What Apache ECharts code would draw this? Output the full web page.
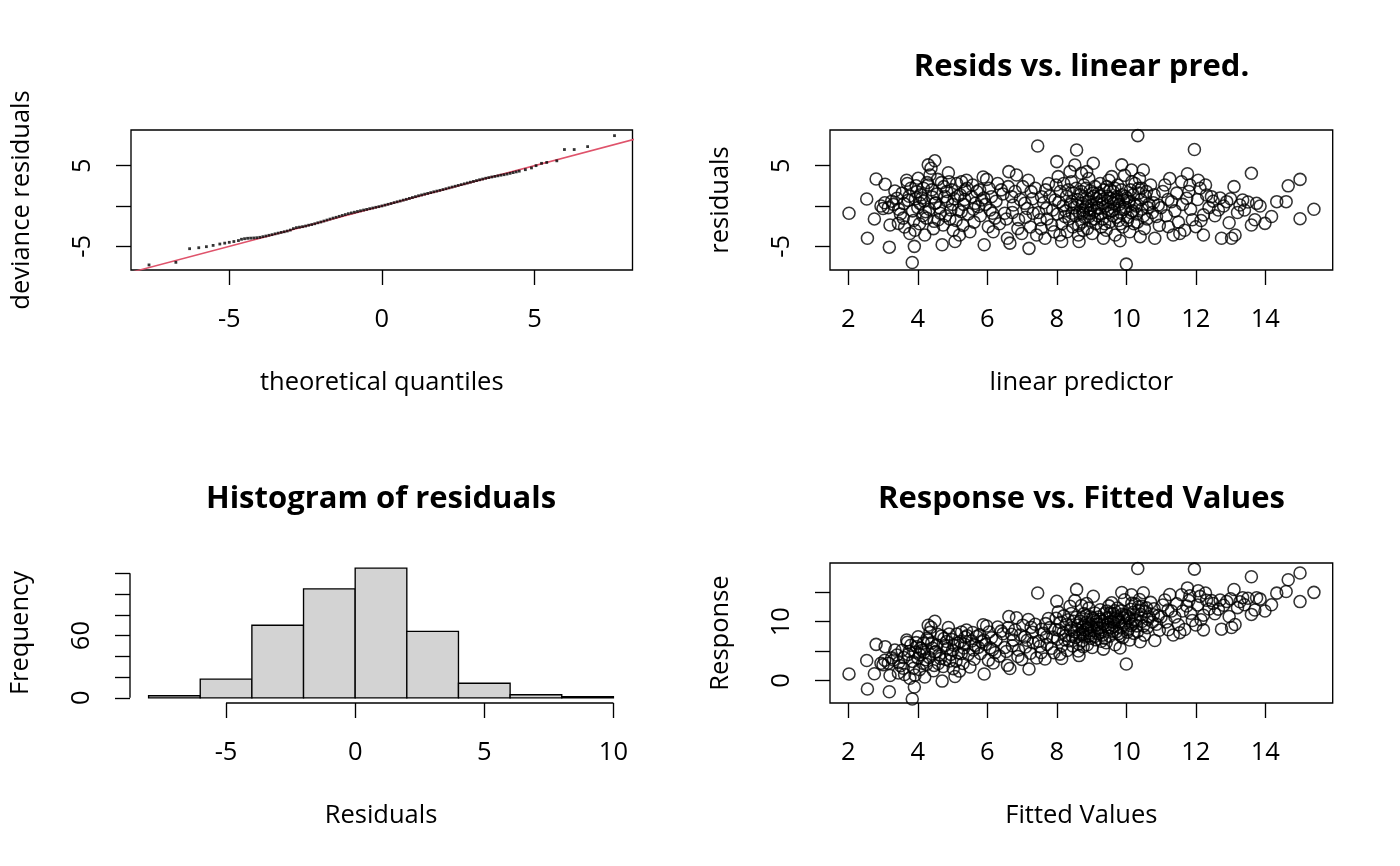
<!DOCTYPE html>
<html><head><meta charset="utf-8">
<script src="https://cdn.jsdelivr.net/npm/echarts@6/dist/echarts.min.js"></script>
<style>html,body{margin:0;padding:0;background:#fff;}#chart{width:1400px;height:866px;}</style>
</head><body><div id="chart"></div>
<script>
// ---------- data ----------
const fitted = [
2.02,2.53,2.55,2.80,3.06,2.75,2.94,3.00,3.18,3.20,
3.34,3.40,3.44,3.58,3.68,3.70,3.77,3.84,3.90,3.92,
3.97,4.01,4.06,4.16,4.20,4.25,4.30,4.38,4.49,4.35,
4.40,4.49,4.59,4.70,4.73,4.78,4.88,4.90,4.95,5.02,
5.07,5.12,5.17,5.20,5.26,5.36,5.40,5.50,5.55,5.65,
5.74,5.84,5.88,5.91,5.98,6.03,6.08,6.12,6.17,6.22,
6.30,6.40,6.50,6.58,6.62,6.65,6.70,6.75,6.84,6.90,
6.99,7.08,7.18,7.20,7.26,7.32,7.42,7.45,7.52,7.56,
7.66,7.70,7.76,7.85,7.95,8.00,8.04,8.09,8.14,8.23,
8.33,8.38,8.43,8.52,8.57,8.64,8.71,8.76,9.05,8.86,
8.76,9.34,9.82,10.00,10.33,9.87,10.15,10.49,9.58,9.25,
9.54,9.73,9.92,10.25,10.35,10.58,10.92,10.87,10.82,11.11,
11.21,11.30,11.35,11.54,11.59,11.74,11.76,11.83,11.96,12.07,
12.12,12.22,12.22,12.00,11.90,12.31,12.45,12.65,12.74,12.89,
12.96,13.03,13.10,13.13,13.27,13.35,13.40,13.60,13.60,13.75,
13.70,13.99,14.18,14.33,14.60,14.66,15.00,15.00,15.40,3.05,
3.15,3.25,3.50,3.60,3.75,3.85,3.95,4.05,4.12,4.22,
4.30,4.45,4.55,4.62,4.68,4.80,4.85,4.98,5.05,5.10,
5.22,5.30,5.32,5.45,5.58,5.62,5.70,5.80,5.95,6.05,
6.15,6.25,6.35,6.45,6.55,6.60,6.72,6.80,6.88,6.95,
7.02,7.10,7.15,7.24,7.30,7.38,7.48,7.55,7.62,7.68,
7.72,7.80,7.88,7.92,7.98,8.02,8.06,8.10,8.15,8.18,
8.20,8.25,8.28,8.30,8.35,8.40,8.42,8.46,8.48,8.50,
8.54,8.56,8.60,8.62,8.66,8.68,8.72,8.74,8.78,8.80,
8.82,8.85,8.88,8.90,8.92,8.94,8.96,8.98,9.00,9.02,
9.06,9.08,9.10,9.12,9.15,9.18,9.20,9.22,9.28,9.30,
9.32,9.36,9.40,9.42,9.45,9.48,9.50,9.52,9.56,9.60,
9.62,9.65,9.68,9.70,9.75,9.78,9.80,9.85,9.88,9.90,
9.95,9.98,10.02,10.05,10.08,10.10,10.12,10.18,10.20,10.22,
10.28,10.30,10.38,10.40,10.42,10.45,10.52,10.55,10.60,10.65,
10.70,10.75,10.80,10.95,11.00,11.05,11.15,11.20,11.25,11.40,
11.45,11.50,11.62,11.68,11.80,11.85,12.05,12.15,12.28,12.38,
12.50,12.55,12.70,12.80,13.00,13.20,13.50,13.85,
3.30,3.45,3.55,3.62,3.72,3.80,3.88,3.93,4.00,4.08,
4.14,4.18,4.27,4.33,4.42,4.47,4.52,4.57,4.65,4.75,
4.83,4.92,5.00,5.15,5.25,5.35,5.42,5.60,5.78,5.90,
8.44,8.58,8.63,8.70,8.75,8.84,8.87,8.93,8.97,9.04,
9.09,9.14,9.17,9.24,9.26,9.33,9.38,9.44,9.47,9.53,
9.58,9.63,9.67,9.72,9.77,9.83,9.86,9.93,9.97,10.03,
10.07,10.13,10.16,10.24,10.32,10.36,10.44,10.50,10.62,10.78
];
const resid = [
-0.90,0.87,-4.00,3.35,2.70,-1.60,0.00,-0.30,-5.10,-2.35,
1.86,0.95,-2.15,-1.50,3.20,2.80,-3.40,-7.00,-5.00,-3.00,
1.78,3.43,0.33,2.20,-3.60,-1.50,5.10,4.67,5.60,3.84,
2.00,0.33,-1.70,-4.80,-2.35,1.16,4.13,3.00,-0.50,-3.00,
-4.40,2.80,-0.50,-3.60,3.00,2.00,3.20,-3.20,1.16,0.33,
-0.10,0.74,3.60,-4.80,3.30,-2.56,-0.50,1.16,-3.20,-1.50,
2.80,2.00,-0.90,-4.00,4.26,-4.60,1.16,0.12,3.84,-1.70,
-3.40,0.33,3.20,-5.25,1.78,-0.90,-3.60,7.44,-1.70,1.16,
-4.00,-0.30,2.80,-2.35,0.74,5.50,3.64,-3.60,-4.40,-1.30,
2.00,4.26,0.54,5.08,6.94,-4.40,4.05,-0.50,5.30,4.26,
-3.00,-4.00,-4.30,-7.20,8.72,5.10,4.46,4.46,3.64,2.80,
2.00,1.16,0.74,2.80,2.20,1.78,0.12,-1.30,-4.00,2.60,
-2.56,0.54,-3.60,-3.40,3.00,0.95,4.00,2.60,7.00,3.20,
2.20,-3.60,-1.10,-2.56,-1.70,1.36,1.16,-0.50,-4.00,0.54,
-2.07,-4.00,2.40,-3.60,0.12,0.74,-0.50,4.05,-2.35,0.33,
-1.70,-2.15,-1.30,0.54,0.54,2.50,3.30,-1.57,-0.40,0.40,
-0.20,0.60,-1.00,0.30,1.20,-0.60,2.50,-2.20,1.00,-0.70,
2.60,-2.80,1.50,-0.20,2.90,-1.20,0.60,2.00,0.90,-1.80,
1.40,-2.40,0.20,-1.00,2.60,-2.00,1.80,-1.20,0.20,2.20,
-0.90,0.60,-2.20,1.50,-1.60,2.40,-0.80,1.80,-2.80,0.80,
2.40,-1.40,-0.30,-2.60,0.90,2.20,-0.80,-2.80,0.40,2.00,
-1.60,1.20,-0.50,-3.20,2.60,-1.00,0.50,1.80,-2.20,0.00,
2.80,-0.60,1.20,-3.20,-1.60,0.20,3.00,-2.60,1.60,-0.20,
-1.20,2.20,0.80,-3.60,-0.80,1.40,-2.00,0.30,2.60,-1.40,
-0.20,1.00,-2.80,0.60,3.40,-0.90,1.90,-1.80,0.10,-3.40,
1.20,-0.60,2.40,-2.20,0.40,-1.20,1.60,-0.30,-2.60,0.80,
-1.60,2.00,0.00,-3.00,1.20,-0.80,3.20,-2.00,0.50,-1.20,
1.80,-0.40,-3.60,0.90,2.60,-1.80,0.20,-0.90,1.40,-2.60,
3.80,-0.20,1.00,-1.40,0.40,-3.20,2.00,-0.60,1.40,-2.20,
0.00,-1.00,3.40,-3.80,0.80,-0.40,-2.80,1.20,-1.60,0.20,
2.60,-0.80,1.40,-2.40,-0.20,1.80,-1.20,0.80,3.40,-0.60,
1.60,-2.00,0.20,-3.00,1.80,-0.40,0.80,-1.80,2.60,-0.20,
0.60,-1.20,1.00,0.00,0.90,-0.80,0.50,0.00,
0.20,-0.40,1.60,-2.60,0.70,2.20,-1.80,0.90,-0.20,1.40,
-1.20,0.60,2.90,-0.40,1.10,-1.90,0.40,3.30,-0.90,2.40,
1.80,-1.60,0.20,1.20,-0.70,0.80,2.20,-0.40,2.00,1.00,
-0.90,0.10,-2.40,1.80,-0.90,2.20,0.00,-1.30,-0.50,1.60,
-1.60,0.90,-0.20,1.20,-1.00,0.30,-2.20,2.40,-0.40,1.00,
-0.60,0.30,2.20,-1.40,0.60,-2.20,2.00,-0.40,1.20,-1.80,
0.60,-0.80,3.00,0.20,-2.00,1.60,2.20,-1.20,-0.20,0.40
];
const response = [
1.12,3.40,-1.45,6.15,5.76,1.15,2.94,2.70,-1.92,0.85,
5.20,4.35,1.29,2.08,6.88,6.50,0.37,-3.16,-1.10,0.92,
5.75,7.44,4.39,6.36,0.60,2.75,9.40,9.05,10.09,8.19,
6.40,4.82,2.89,-0.10,2.38,5.94,9.01,7.90,4.45,2.02,
0.67,7.92,4.67,1.60,8.26,7.36,8.60,2.30,6.71,5.98,
5.64,6.58,9.48,1.11,9.28,3.47,5.58,7.28,2.97,4.72,
9.10,8.40,5.60,2.58,10.88,2.05,7.86,6.87,10.68,5.20,
3.59,7.41,10.38,1.95,9.04,6.42,3.82,14.89,5.82,8.72,
3.66,7.40,10.56,5.50,8.69,13.50,11.68,4.49,3.74,6.93,
10.33,12.64,8.97,13.60,15.51,4.24,12.76,8.26,14.35,13.12,
5.76,5.34,5.52,2.80,19.05,14.97,14.61,14.95,13.22,12.05,
11.54,10.89,10.66,13.05,12.55,12.36,11.04,9.57,6.82,13.71,
8.65,11.84,7.75,8.14,14.59,12.69,15.76,14.43,18.96,15.27,
14.32,8.62,11.12,9.44,10.20,13.67,13.61,12.15,8.74,13.43,
10.89,9.03,15.50,9.53,13.39,14.09,12.90,17.65,11.25,14.08,
12.00,11.84,12.88,14.87,15.14,17.16,18.30,13.43,15.00,3.45,
2.95,3.85,2.50,3.90,4.95,3.25,6.45,1.85,5.12,3.52,
6.90,1.65,6.05,4.42,7.58,3.60,5.45,6.98,5.95,3.30,
6.62,2.90,5.52,4.45,8.18,3.62,7.50,4.60,6.15,8.25,
5.25,6.85,4.15,7.95,4.95,9.00,5.92,8.60,4.08,7.75,
9.42,5.70,6.85,4.64,8.20,9.58,6.68,4.75,8.02,9.68,
6.12,9.00,7.38,4.72,10.58,7.02,8.56,9.90,5.95,8.18,
11.00,7.65,9.48,5.10,6.75,8.60,11.42,5.86,10.08,8.30,
7.34,10.76,9.40,5.02,7.86,10.08,6.72,9.04,11.38,7.40,
8.62,9.85,6.08,9.50,12.32,8.04,10.86,7.18,9.10,5.62,
10.26,8.48,11.50,6.92,9.55,7.98,10.80,8.92,6.68,10.10,
7.72,11.36,9.40,6.42,10.65,8.68,12.70,7.52,10.06,8.40,
11.42,9.25,6.08,10.60,12.35,7.98,10.00,8.95,11.28,7.30,
13.75,9.78,11.02,8.65,10.48,6.90,12.12,9.58,11.60,8.02,
10.28,9.30,13.78,6.60,11.22,10.05,7.72,11.75,9.00,10.85,
13.30,9.95,12.20,8.55,10.80,12.85,9.95,12.00,14.65,10.80,
13.05,9.50,11.82,8.68,13.60,11.45,12.85,10.35,14.88,12.18,
13.10,11.35,13.70,12.80,13.90,12.40,14.00,13.85,
3.50,3.05,5.15,1.02,4.42,6.00,2.08,4.83,3.80,5.48,
2.94,4.78,7.17,3.93,5.52,2.57,4.92,7.87,3.75,7.15,
6.63,3.32,5.20,6.35,4.55,6.15,7.62,5.20,7.78,6.90,
7.54,8.68,6.23,10.50,7.85,11.04,8.87,7.63,8.47,10.64,
7.49,10.04,8.97,10.44,8.26,9.63,7.18,11.84,9.07,10.53,
8.98,9.93,11.87,8.32,10.37,7.63,11.86,9.53,11.17,8.23,
10.67,9.33,13.16,10.44,8.32,11.96,12.64,9.30,10.42,11.18
];
const qqTheoretical = [
-7.63,-6.75,-6.30,-6.00,-5.75,-5.53,-5.31,-5.15,-5.00,-4.85,-4.70,-4.60,
-4.5,-4.4,-4.3,-4.2,-4.1,-4.0,-3.9,-3.8,-3.7,-3.6,-3.5,-3.4,-3.3,-3.2,-3.1,
-3.0,-2.9,-2.8,-2.7,-2.6,-2.5,-2.4,-2.3,-2.2,-2.1,-2.0,-1.9,-1.8,-1.7,-1.6,
-1.5,-1.4,-1.3,-1.2,-1.1,-1.0,-0.9,-0.8,-0.7,-0.6,-0.5,-0.4,-0.3,-0.2,-0.1,
0.0,0.1,0.2,0.3,0.4,0.5,0.6,0.7,0.8,0.9,1.0,1.1,1.2,1.3,1.4,1.5,1.6,1.7,1.8,
1.9,2.0,2.1,2.2,2.3,2.4,2.5,2.6,2.7,2.8,2.9,3.0,3.1,3.2,3.3,3.4,3.5,3.6,3.7,
3.8,3.9,4.0,4.1,4.2,4.3,4.4,4.5,4.7,4.9,5.05,
5.23,5.40,5.73,5.98,6.30,6.74,7.62
];
const qqSample = [
-7.30,-6.98,-5.29,-5.17,-5.04,-4.88,-4.71,-4.60,-4.50,-4.40,-4.28,-4.12,
-4.05,-4.00,-3.98,-3.96,-3.93,-3.88,-3.80,-3.72,-3.63,-3.55,-3.45,-3.36,-3.27,-3.19,-3.10,
-2.98,-2.80,-2.68,-2.62,-2.56,-2.48,-2.38,-2.30,-2.20,-2.08,-1.98,-1.86,-1.74,-1.62,-1.50,
-1.40,-1.28,-1.17,-1.06,-0.95,-0.86,-0.77,-0.68,-0.59,-0.50,-0.42,-0.33,-0.25,-0.16,-0.08,
0.01,0.11,0.21,0.31,0.42,0.52,0.62,0.73,0.83,0.94,1.05,1.16,1.27,1.37,1.47,1.56,1.66,1.76,1.85,
1.94,2.04,2.14,2.25,2.35,2.45,2.55,2.65,2.75,2.85,2.95,3.05,3.15,3.25,3.34,3.44,3.52,3.60,3.67,
3.74,3.82,3.88,3.96,4.05,4.14,4.23,4.32,4.50,4.72,5.00,
5.29,5.40,5.60,7.00,7.00,7.36,8.72
];
const refLine = [-8.3, 8.3];            // abline(0, 1)
const histBreaks = [-8,-6,-4,-2,0,2,4,6,8,10];
const histCounts = [2,18,70,105,125,64,14,3,1];
const qqTicksX = [-5,0,5];
const residTicksY = [-5,0,5];
const residLabelsY = [-5,5];
const predTicksX = [2,4,6,8,10,12,14];
const histTicksX = [-5,0,5,10];
const histTicksY = [0,20,40,60,80,100,120];
const histLabelsY = [0,60];
const respTicksY = [0,5,10,15];
const respLabelsY = [0,10];

// ---------- styling helpers ----------
const FONT = '"Open Sans","Noto Sans",sans-serif';
const FS = 25.5;
const TFS = 31;
const LW = 1.35;
const txt = {color:'#000', fontFamily:FONT, fontSize:FS};

function xAxis(gi, min, max, ticks, labels, name){
  return {type:'value', gridIndex:gi, min, max, position:'bottom',
    splitLine:{show:false}, axisLine:{show:false, onZero:false},
    axisTick:{show:true, customValues:ticks, length:15, lineStyle:{color:'#000', width:LW}},
    axisLabel:{customValues:labels, margin:36.5, ...txt},
    name, nameLocation:'middle', nameGap:99.5, nameTextStyle:{...txt}};
}
function yAxis(gi, min, max, ticks, labels, name){
  return {type:'value', gridIndex:gi, min, max, position:'left',
    splitLine:{show:false}, axisLine:{show:false, onZero:false},
    axisTick:{show:true, customValues:ticks, length:15, lineStyle:{color:'#000', width:LW}},
    axisLabel:{customValues:labels, margin:35, rotate:90, ...txt},
    name, nameLocation:'middle', nameGap:96.5, nameTextStyle:{...txt}};
}
const boxGrid = (left, top, width, height, show) => ({left, top, width, height, show,
  borderColor:'#000', borderWidth:LW, backgroundColor:'transparent', containLabel:false});

const xMinHist = -8.72, xMaxHist = 10.72, yMinHist = -5, yMaxHist = 130;

const circle = {symbol:'circle', symbolSize:12,
  itemStyle:{color:'rgba(0,0,0,0)', borderColor:'#000', borderWidth:1.55}};
const titleStyle = {color:'#000', fontFamily:FONT, fontSize:TFS, fontWeight:'bold'};

const option = {
  animation:false,
  backgroundColor:'#fff',
  title:[
    {text:'Resids vs. linear pred.', left:1081.5, top:67, textAlign:'center', textVerticalAlign:'middle', padding:0, textStyle:titleStyle},
    {text:'Histogram of residuals', left:381, top:499, textAlign:'center', textVerticalAlign:'middle', padding:0, textStyle:titleStyle},
    {text:'Response vs. Fitted Values', left:1081.5, top:499, textAlign:'center', textVerticalAlign:'middle', padding:0, textStyle:titleStyle}
  ],
  grid:[
    boxGrid(131,130,501.5,140,true),
    boxGrid(830,130,502.7,140,true),
    boxGrid(130,563,502,140,false),
    boxGrid(830,563,502.7,140,true)
  ],
  xAxis:[
    xAxis(0,-8.22,8.21,qqTicksX,qqTicksX,'theoretical quantiles'),
    xAxis(1,1.473,15.94,predTicksX,predTicksX,'linear predictor'),
    xAxis(2,xMinHist,xMaxHist,histTicksX,histTicksX,'Residuals'),
    xAxis(3,1.473,15.94,predTicksX,predTicksX,'Fitted Values')
  ],
  yAxis:[
    yAxis(0,-7.93,9.42,residTicksY,residLabelsY,'deviance residuals'),
    yAxis(1,-7.93,9.42,residTicksY,residLabelsY,'residuals'),
    yAxis(2,yMinHist,yMaxHist,histTicksY,histLabelsY,'Frequency'),
    yAxis(3,-3.83,20.0,respTicksY,respLabelsY,'Response')
  ],
  series:[
    {type:'line', xAxisIndex:0, yAxisIndex:0, data:refLine.map(v=>[v,v]), symbol:'none', silent:true,
     lineStyle:{color:'#DF536B', width:1.5}, clip:true, z:1},
    {type:'scatter', xAxisIndex:0, yAxisIndex:0, silent:true, symbol:'rect', symbolSize:2.8,
     itemStyle:{color:'#000'}, data:qqTheoretical.map((q,i)=>[q, qqSample[i]]), z:2},
    {type:'scatter', xAxisIndex:1, yAxisIndex:1, silent:true, ...circle,
     data:fitted.map((f,i)=>[f, resid[i]])},
    {type:'custom', xAxisIndex:2, yAxisIndex:2, silent:true, clip:false,
     data:histCounts.map((c,i)=>[histBreaks[i], histBreaks[i+1], c]),
     encode:{x:[0,1], y:2},
     renderItem:(params, api)=>{
       const p0 = api.coord([api.value(0), api.value(2)]);
       const p1 = api.coord([api.value(1), 0]);
       return {type:'rect', shape:{x:p0[0], y:p0[1], width:p1[0]-p0[0], height:p1[1]-p0[1]},
         style:{fill:'#D3D3D3', stroke:'#000', lineWidth:LW}};
     }},
    {type:'line', xAxisIndex:2, yAxisIndex:2, silent:true, clip:false, symbol:'none',
     data:[[histTicksX[0], yMinHist],[histTicksX[histTicksX.length-1], yMinHist]],
     lineStyle:{color:'#000', width:LW}},
    {type:'line', xAxisIndex:2, yAxisIndex:2, silent:true, clip:false, symbol:'none',
     data:[[xMinHist, histTicksY[0]],[xMinHist, histTicksY[histTicksY.length-1]]],
     lineStyle:{color:'#000', width:LW}},
    {type:'scatter', xAxisIndex:3, yAxisIndex:3, silent:true, ...circle,
     data:fitted.map((f,i)=>[f, response[i]])}
  ]
};
const chart = echarts.init(document.getElementById('chart'), null, {renderer:'canvas'});
chart.setOption(option);
</script>
</body></html>
